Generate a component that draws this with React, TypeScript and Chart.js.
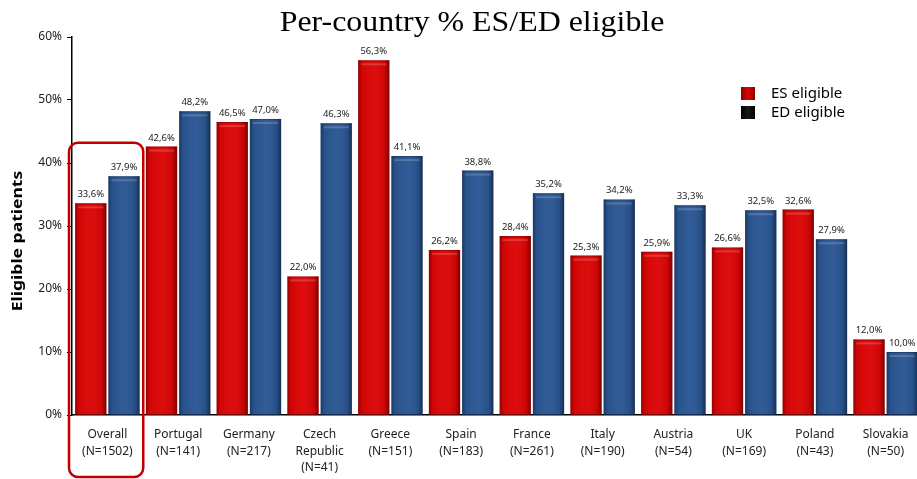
import React, { useEffect, useRef } from "react";
import { Chart, registerables } from "chart.js";

Chart.register(...registerables);

const categories: string[][] = [
  ["Overall", "(N=1502)"],
  ["Portugal", "(N=141)"],
  ["Germany", "(N=217)"],
  ["Czech", "Republic", "(N=41)"],
  ["Greece", "(N=151)"],
  ["Spain", "(N=183)"],
  ["France", "(N=261)"],
  ["Italy", "(N=190)"],
  ["Austria", "(N=54)"],
  ["UK", "(N=169)"],
  ["Poland", "(N=43)"],
  ["Slovakia", "(N=50)"],
];
const esEligible = [33.6, 42.6, 46.5, 22.0, 56.3, 26.2, 28.4, 25.3, 25.9, 26.6, 32.6, 12.0];
const edEligible = [37.9, 48.2, 47.0, 46.3, 41.1, 38.8, 35.2, 34.2, 33.3, 32.5, 27.9, 10.0];
const seriesNames = ["ES eligible", "ED eligible"];
const yTicks = [0, 10, 20, 30, 40, 50, 60];
const titleText = "Per-country % ES/ED eligible";
const yTitle = "Eligible patients";

const RED = "#dc0505";
const BLUE = "#2a5693";
const FONT = "'Noto Sans', 'DejaVu Sans', sans-serif";

const fmt = (v: number) => v.toFixed(1).replace(".", ",") + "%";

const shadePlugin = {
  id: "shade",
  afterDatasetsDraw(chart: any) {
    const ctx = chart.ctx;
    chart.data.datasets.forEach((_: any, di: number) => {
      const meta = chart.getDatasetMeta(di);
      meta.data.forEach((el: any) => {
        const { x, y, base, width } = el.getProps(["x", "y", "base", "width"], true);
        const left = x - width / 2;
        const h = base - y;
        ctx.save();
        const g = ctx.createLinearGradient(left, 0, left + width, 0);
        g.addColorStop(0, "rgba(0,0,0,0.35)");
        g.addColorStop(0.12, "rgba(0,0,0,0.05)");
        g.addColorStop(0.5, "rgba(255,255,255,0.03)");
        g.addColorStop(0.85, "rgba(0,0,0,0.08)");
        g.addColorStop(1, "rgba(0,0,0,0.45)");
        ctx.fillStyle = g;
        ctx.fillRect(left, y, width, h);
        ctx.fillStyle = "rgba(255,255,255,0.18)";
        ctx.fillRect(left + 3, y + 3, width - 6, 2);
        ctx.fillStyle = "rgba(0,0,0,0.25)";
        ctx.fillRect(left, y, width, 1);
        ctx.restore();
      });
    });
  },
};

const labelPlugin = {
  id: "valueLabels",
  afterDatasetsDraw(chart: any) {
    const ctx = chart.ctx;
    ctx.save();
    ctx.font = `9.5px ${FONT}`;
    ctx.fillStyle = "#222";
    ctx.textAlign = "center";
    ctx.textBaseline = "bottom";
    chart.data.datasets.forEach((ds: any, di: number) => {
      const meta = chart.getDatasetMeta(di);
      meta.data.forEach((el: any, i: number) => {
        const { x, y } = el.getProps(["x", "y"], true);
        ctx.fillText(fmt(ds.data[i]), x, y - 4);
      });
    });
    ctx.restore();
  },
};

const decorPlugin = {
  id: "decor",
  afterDraw(chart: any) {
    const ctx = chart.ctx;
    const xs = chart.scales.x;
    const ys = chart.scales.y;
    ctx.save();
    // Title
    ctx.save();
    ctx.translate(472, 31);
    ctx.scale(1.1, 1);
    ctx.font = `29px 'Liberation Serif', 'Times New Roman', serif`;
    ctx.fillStyle = "#000";
    ctx.textAlign = "center";
    ctx.textBaseline = "alphabetic";
    ctx.fillText(titleText, 0, 0);
    ctx.restore();

    // Y axis title
    ctx.save();
    ctx.translate(18, 241);
    ctx.rotate(-Math.PI / 2);
    ctx.scale(1.25, 1);
    ctx.font = `bold 14px ${FONT}`;
    ctx.fillStyle = "#000";
    ctx.textAlign = "center";
    ctx.textBaseline = "middle";
    ctx.fillText(yTitle, 0, 0);
    ctx.restore();

    // Legend
    seriesNames.forEach((name, i) => {
      const ly = 94 + i * 19;
      const g = ctx.createLinearGradient(741, 0, 755, 0);
      g.addColorStop(0, i === 0 ? "#8a0000" : "#000");
      g.addColorStop(0.5, i === 0 ? RED : "#1a1a1a");
      g.addColorStop(1, i === 0 ? "#8a0000" : "#000");
      ctx.fillStyle = g;
      ctx.fillRect(741, ly - 7, 14, 13);
      ctx.fillStyle = "#000";
      ctx.font = `15px ${FONT}`;
      ctx.textAlign = "left";
      ctx.textBaseline = "middle";
      ctx.fillText(name, 771, ly);
    });

    // Highlight box around first category
    const cw = xs.width / categories.length;
    const cx = xs.getPixelForValue(0);
    const left = cx - cw / 2 - 3;
    const right = cx + cw / 2 + 0.5;
    const top = ys.getPixelForValue(43.2);
    const bottom = 477;
    const r = 9;
    ctx.strokeStyle = "#c00000";
    ctx.lineWidth = 2.5;
    ctx.beginPath();
    ctx.moveTo(left + r, top);
    ctx.arcTo(right, top, right, bottom, r);
    ctx.arcTo(right, bottom, left, bottom, r);
    ctx.arcTo(left, bottom, left, top, r);
    ctx.arcTo(left, top, right, top, r);
    ctx.closePath();
    ctx.stroke();
    ctx.restore();
  },
};

export default function App() {
  const ref = useRef<HTMLCanvasElement | null>(null);
  useEffect(() => {
    document.body.style.margin = "0";
    if (!ref.current) return;
    const chart = new Chart(ref.current, {
      type: "bar",
      data: {
        labels: categories,
        datasets: [
          { label: seriesNames[0], data: esEligible, backgroundColor: RED },
          { label: seriesNames[1], data: edEligible, backgroundColor: BLUE },
        ],
      },
      options: {
        animation: false,
        responsive: false,
        devicePixelRatio: 1,
        layout: { padding: { top: 37, left: 0, right: 2, bottom: 0 } },
        datasets: { bar: { categoryPercentage: 0.94, barPercentage: 0.94 } },
        plugins: {
          legend: { display: false },
          title: { display: false },
          tooltip: { enabled: false },
        },
        scales: {
          x: {
            grid: { drawOnChartArea: false, drawTicks: false },
            border: { color: "#000", width: 1.5 },
            ticks: {
              font: { family: FONT, size: 12, lineHeight: 1.4 },
              color: "#222",
              padding: 11,
              maxRotation: 0,
              autoSkip: false,
            },
            afterFit: (s: any) => {
              s.height = 64;
            },
          },
          y: {
            min: 0,
            max: 60,
            afterBuildTicks: (s: any) => {
              s.ticks = yTicks.map((v) => ({ value: v }));
            },
            ticks: {
              callback: (v: any) => v + "%",
              font: { family: FONT, size: 12 },
              color: "#222",
              padding: 5,
            },
            grid: { drawOnChartArea: false, tickLength: 5, color: "#000" },
            border: { color: "#000", width: 1.5 },
            afterFit: (s: any) => {
              s.width = 72;
            },
          },
        },
      },
      plugins: [shadePlugin, labelPlugin, decorPlugin],
    } as any);
    return () => chart.destroy();
  }, []);
  return (
    <div style={{ width: 917, height: 479, overflow: "hidden", position: "relative", background: "#fff" }}>
      <canvas ref={ref} width={923} height={479} style={{ display: "block" }} />
    </div>
  );
}
